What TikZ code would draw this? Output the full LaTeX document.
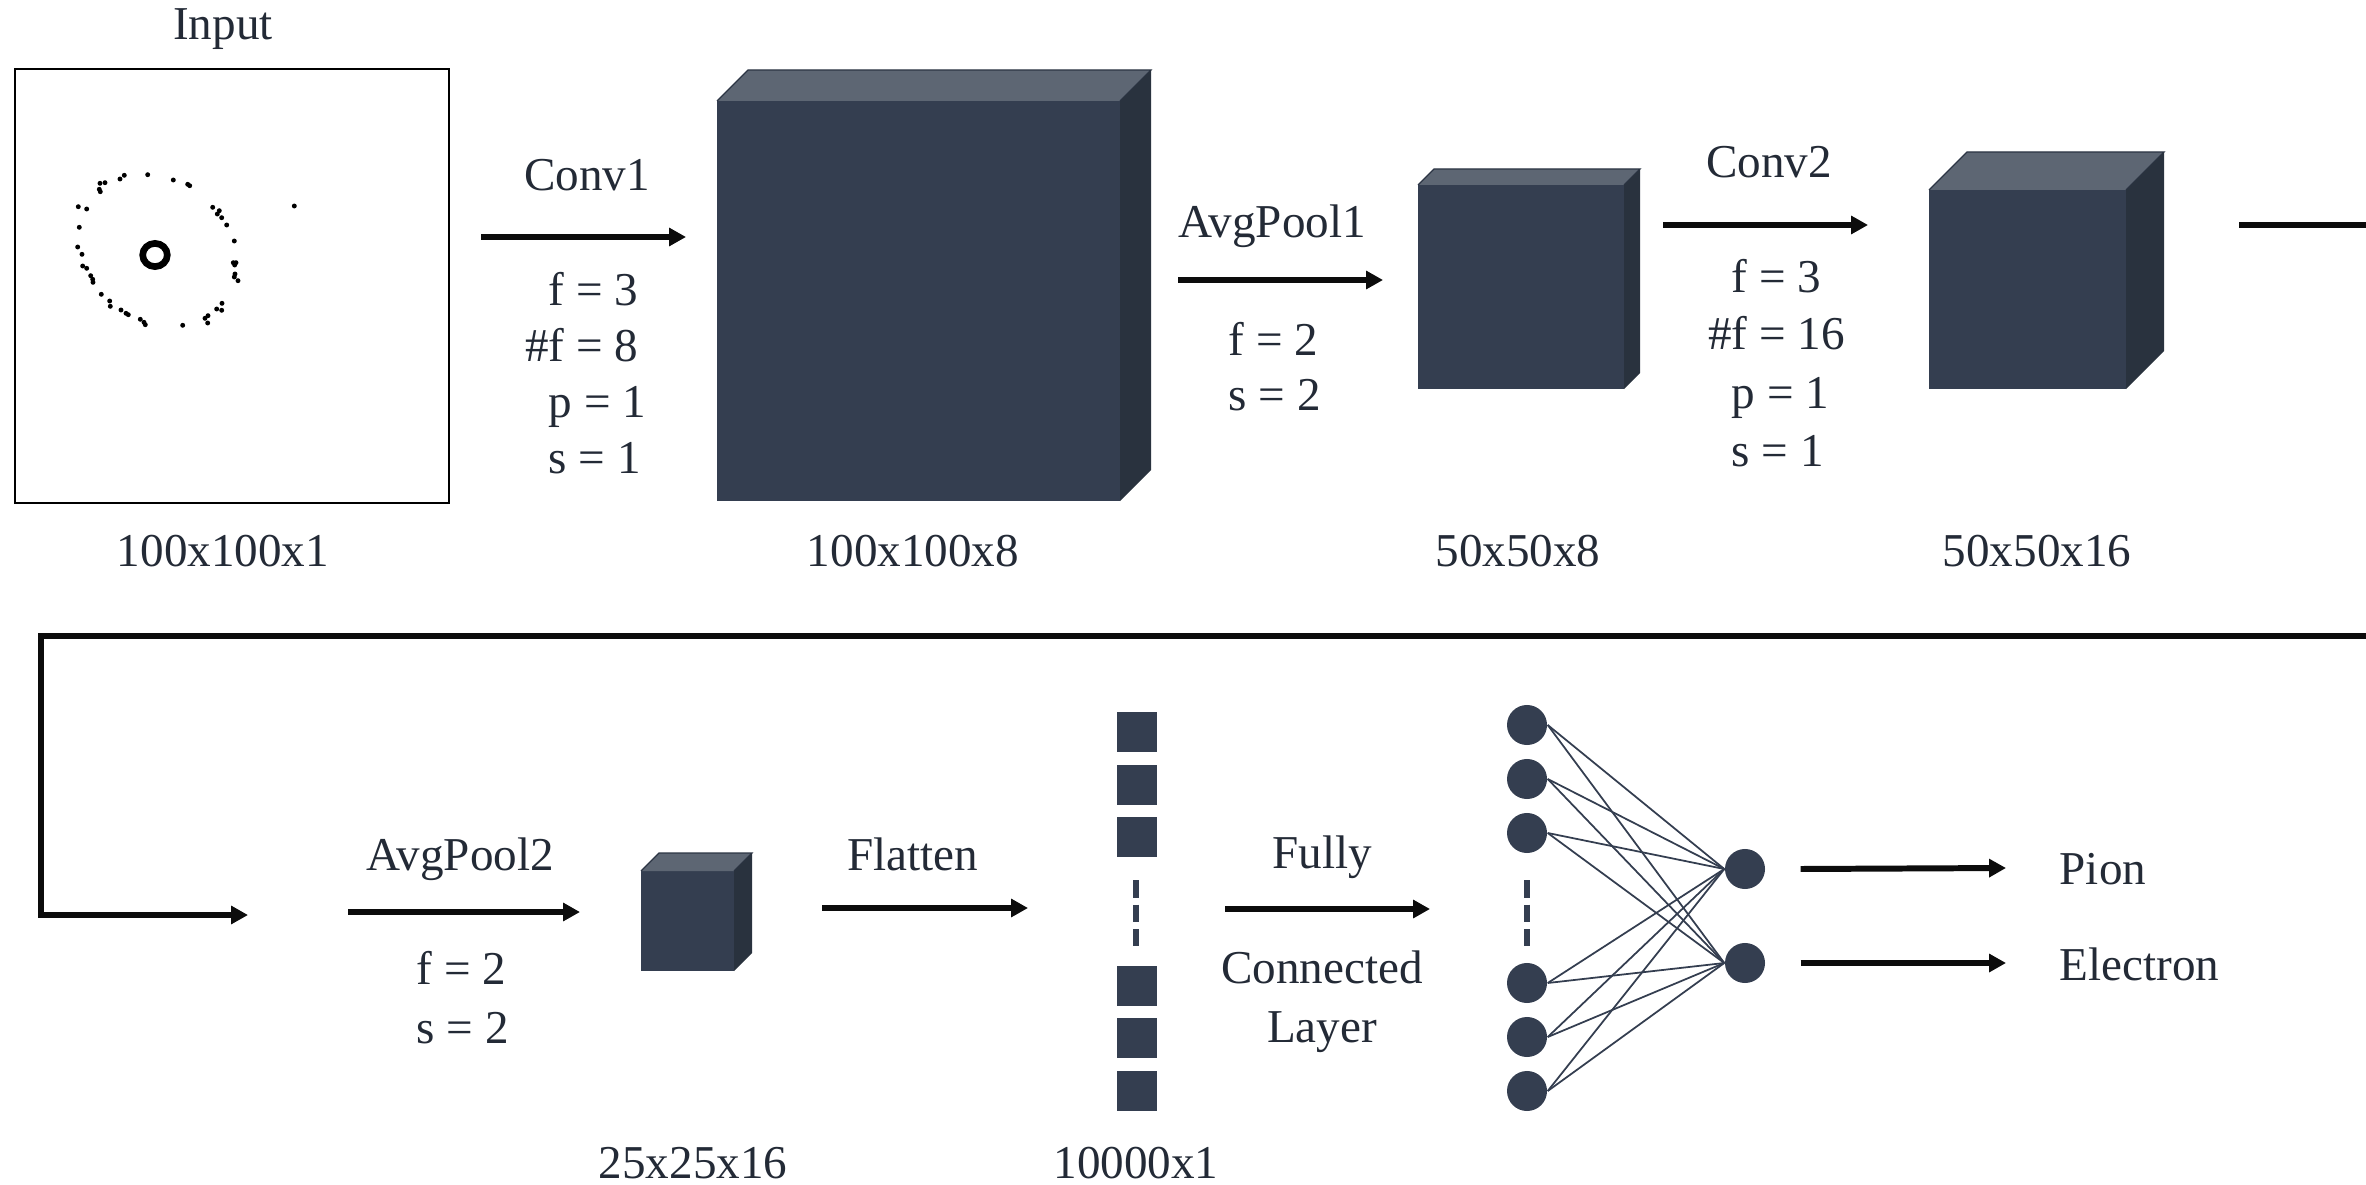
\documentclass[tikz,border=0pt]{standalone}
\usepackage{fontspec}
\setmainfont{Liberation Serif}
\usetikzlibrary{arrows.meta,calc}
\definecolor{front}{RGB}{52,62,80}
\definecolor{topc}{RGB}{93,102,115}
\definecolor{side}{RGB}{41,50,62}
\definecolor{txt}{RGB}{35,42,54}
\definecolor{ink}{RGB}{12,12,12}
\newcommand\mycube[6]{% name, x, y, w, h, d
  \node[face, anchor=north west, minimum width=#4*0.01cm, minimum height=#5*0.01cm] (#1) at (#2,#3) {};
  \fill[topc] (#1.north west) -- ++(#6,-#6) -- ++(#4,0) -- (#1.north east) -- cycle;
  \draw[front!85!black, line width=0.35pt] (#1.north west) -- ++(#6,-#6) -- ++(#4,0) -- (#1.north east);
  \fill[side] (#1.north east) -- ++(#6,-#6) -- ++(0,#5) -- (#1.south east) -- cycle;
}
\begin{document}
\begin{tikzpicture}[x=0.01cm,y=-0.01cm,
  lbl/.style={font=\fontsize{13.4}{16}\selectfont, text=txt, inner sep=0, anchor=base},
  prm/.style={lbl, anchor=base west},
  flow/.style={line width=1.7pt, draw=ink, -{Triangle[length=4.8pt,width=5pt]}},
  wire/.style={line width=1.7pt, draw=ink, line join=miter},
  face/.style={fill=front, draw=none, inner sep=0, outer sep=0},
  neuron/.style={circle, fill=front, minimum size=0.4cm, inner sep=0},
  sq/.style={fill=front, minimum size=0.4cm, inner sep=0},
  link/.style={draw=front, line width=0.5pt},
  vdash/.style={draw=front, line width=1.8pt, dash pattern=on 5pt off 2pt}
]
\useasboundingbox (0,0) rectangle (2366,1185);

% ---------- Input ----------
\node[draw=black, line width=0.6pt, anchor=north west, minimum width=4.34cm, minimum height=4.34cm, inner sep=0] (input) at (14,68) {};
\node[lbl] (tinput) at (223,40) {Input};
\node[lbl] (sinput) at (223,566) {100x100x1};
\draw[black, line width=1.9pt] (155,255) ellipse [x radius=3.5pt, y radius=3.3pt];
\foreach \px/\py in {100/183.3,105/182.7,99.3/189.3,100.3/191.7,120/179,124.3/175.3,147.7/174.7,173.3/180,187.7/184.3,189.7/185.7,
  78.3/206.7,86.7/209,79.3/227.3,77.7/247,82/254.3,82.7/266,86.7/268.3,90.7/275.7,92.7/279.3,93/282.3,
  101.3/294.3,109.7/301,110.3/306.3,121/310,126/313.3,128.3/314.7,140.3/319.3,144/322.3,145.3/324.7,182.7/325.3,
  205/318.3,208/315.7,207.7/323,216.7/309,221.7/310.3,222/303.3,
  212.7/207.3,219.3/210.7,217.3/214,221.7/217.7,226.7/225,234.3/241,233.3/262.7,236/262.7,234.7/265,235/274,234.3/277,238/280.7,
  294.3/206}
  \fill[black] (\px,\py) circle[radius=0.7pt];

% ---------- Conv1 ----------
\coordinate (c1s) at (481,237);
\coordinate (c1e) at (686,237);
\draw[flow] (c1s) -- (c1e);
\node[lbl] (tconv1) at (587,191) {Conv1};
\node[prm] (p11) at (548,305) {f = 3};
\node[prm] (p12) at (548,361) {\llap{\#}f = 8};
\node[prm] (p13) at (548,417) {p = 1};
\node[prm] (p14) at (548,473) {s = 1};

% ---------- Cube 1 ----------
\mycube{cubeA}{717}{101}{403}{400}{31}
\node[lbl] (scubeA) at (913,566) {100x100x8};

% ---------- AvgPool1 ----------
\coordinate (a1s) at (1178,280);
\coordinate (a1e) at (1383,280);
\draw[flow] (a1s) -- (a1e);
\node[lbl] (tavg1) at (1272,238) {AvgPool1};
\node[prm] (p21) at (1228,356) {f = 2};
\node[prm] (p22) at (1228,410) {s = 2};

% ---------- Cube 2 ----------
\mycube{cubeB}{1418}{185}{206}{204}{16}
\node[lbl] (scubeB) at (1518,566) {50x50x8};

% ---------- Conv2 ----------
\coordinate (c2s) at (1663,225);
\coordinate (c2e) at (1868,225);
\draw[flow] (c2s) -- (c2e);
\node[lbl] (tconv2) at (1769,178) {Conv2};
\node[prm] (p31) at (1731,292) {f = 3};
\node[prm] (p32) at (1731,350) {\llap{\#}f = 16};
\node[prm] (p33) at (1731,408) {p = 1};
\node[prm] (p34) at (1731,466) {s = 1};

% ---------- Cube 3 ----------
\mycube{cubeC}{1929}{190}{197}{199}{38}
\node[lbl] (scubeC) at (2037,566) {50x50x16};

% ---------- wrap-around connector ----------
\coordinate (r0) at (2239,225);
\coordinate (r1) at (2380,225);
\coordinate (r2) at (2380,636);
\coordinate (r3) at (41,636);
\coordinate (r4) at (41,915);
\coordinate (r5) at (248,915);
\draw[wire] (r0) -- (r1);
\draw[wire, -{Triangle[length=4.8pt,width=5pt]}] (r2) -- (r3) -- (r4) -- (r5);

% ---------- AvgPool2 ----------
\coordinate (a2s) at (348,912);
\coordinate (a2e) at (580,912);
\draw[flow] (a2s) -- (a2e);
\node[lbl] (tavg2) at (460,870) {AvgPool2};
\node[prm] (p41) at (416,984) {f = 2};
\node[prm] (p42) at (416,1043) {s = 2};

% ---------- Cube 4 ----------
\mycube{cubeD}{641}{871}{93}{100}{18}
\node[lbl] (scubeD) at (693,1178) {25x25x16};

% ---------- Flatten ----------
\coordinate (fls) at (822,908);
\coordinate (fle) at (1028,908);
\draw[flow] (fls) -- (fle);
\node[lbl] (tflat) at (913,870) {Flatten};

% ---------- flattened vector ----------
\foreach \i/\yy in {1/732,2/785,3/837,4/986,5/1038,6/1091}
  \node[sq] (v\i) at (1137,\yy) {};
\draw[vdash] (1136,880) -- (1136,946);
\node[lbl] (svec) at (1136,1178) {10000x1};

% ---------- Fully connected ----------
\coordinate (fcs) at (1225,909);
\coordinate (fce) at (1430,909);
\draw[flow] (fcs) -- (fce);
\node[lbl] (tfc1) at (1322,868) {Fully};
\node[lbl] (tfc2) at (1322,983) {Connected};
\node[lbl] (tfc3) at (1322,1042) {Layer};

% ---------- network ----------
\foreach \i/\yy in {1/725,2/779,3/833,4/983,5/1037,6/1091}
  \node[neuron] (i\i) at (1527,\yy) {};
\node[neuron] (o1) at (1745,869) {};
\node[neuron] (o2) at (1745,963) {};
\draw[vdash] (1527,880) -- (1527,946);
\foreach \i in {1,...,6}{
  \draw[link] (i\i.east) -- (o1.west);
  \draw[link] (i\i.east) -- (o2.west);
}

% ---------- outputs ----------
\coordinate (e1) at (2006,868);
\coordinate (e2) at (2006,963);
\draw[flow] (o1.east) ++(35,0) -- (e1);
\draw[flow] (o2.east) ++(35,0) -- (e2);
\node[prm] (tpion) at (2059,884) {Pion};
\node[prm] (telec) at (2059,980) {Electron};
\end{tikzpicture}
\end{document}
